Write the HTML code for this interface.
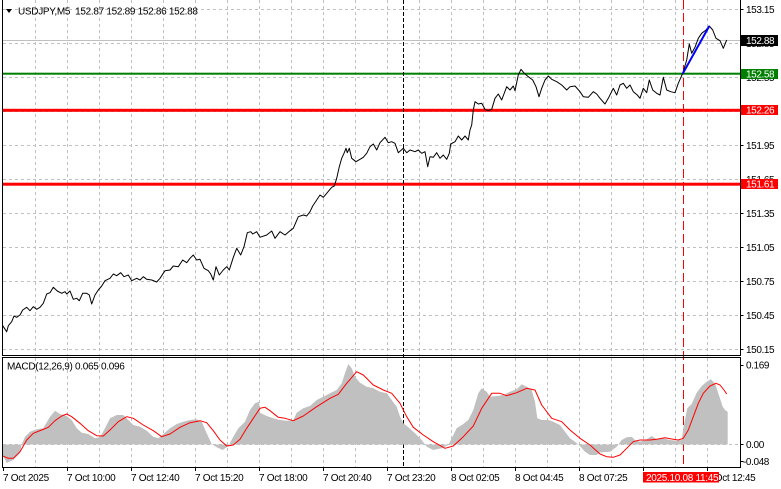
<!DOCTYPE html>
<html><head><meta charset="utf-8"><style>
html,body{margin:0;padding:0;background:#fff;}
svg{display:block;}
text{font-family:"Liberation Sans",sans-serif;font-size:10px;fill:#000;}
</style></head><body>
<svg width="781" height="489" viewBox="0 0 781 489" xmlns="http://www.w3.org/2000/svg">
<rect width="781" height="489" fill="#fff"/>
<!-- grid -->
<g stroke="#c0c0c0" stroke-width="1" stroke-dasharray="3,3" shape-rendering="crispEdges">
<path d="M3 9.5H740M3 43.5H740M3 77.5H740M3 111.5H740M3 145.5H740M3 179.5H740M3 213.5H740M3 247.5H740M3 281.5H740M3 315.5H740M3 349.5H740"/>
<path d="M35.5 0V355M67.5 0V355M99.5 0V355M131.5 0V355M163.5 0V355M195.5 0V355M227.5 0V355M259.5 0V355M291.5 0V355M323.5 0V355M355.5 0V355M387.5 0V355M419.5 0V355M451.5 0V355M483.5 0V355M515.5 0V355M547.5 0V355M579.5 0V355M611.5 0V355M643.5 0V355M675.5 0V355M707.5 0V355"/>
<path d="M35.5 358V467M67.5 358V467M99.5 358V467M131.5 358V467M163.5 358V467M195.5 358V467M227.5 358V467M259.5 358V467M291.5 358V467M323.5 358V467M355.5 358V467M387.5 358V467M419.5 358V467M451.5 358V467M483.5 358V467M515.5 358V467M547.5 358V467M579.5 358V467M611.5 358V467M643.5 358V467M675.5 358V467M707.5 358V467"/>
<path d="M3 444.5H740"/>
</g>
<!-- bid line -->
<path d="M3 40.5H740" stroke="#c0c0c0" stroke-width="1" shape-rendering="crispEdges"/>
<!-- level lines -->
<rect x="3" y="72.7" width="737" height="2" fill="#008000"/>
<rect x="3" y="108.8" width="737" height="3" fill="#ff0000"/>
<rect x="3" y="182.7" width="737" height="3" fill="#ff0000"/>
<!-- vertical markers -->
<path d="M403.5 0V467" stroke="#000" stroke-width="1" stroke-dasharray="4,2" shape-rendering="crispEdges"/>
<path d="M683.5 0V467" stroke="#ff0000" stroke-width="1" stroke-dasharray="9,4" shape-rendering="crispEdges"/>
<!-- price line -->
<polyline fill="none" stroke="#000" stroke-width="1" stroke-linejoin="round" points="2.7,325.7 6.7,331.7 8.3,325.7 11.7,321.7 14,316 16.7,317.3 20,315 22.7,310 26.7,307.3 30,310.7 33.3,306.7 36.7,309.3 40,307.3 43.3,303.3 46.7,294 50,292.7 53.3,287.3 57.3,291 61.7,293.3 65,291.7 66.7,294 70,291 73.3,299.3 76.7,298.3 79.3,300.7 82.7,293.3 86.7,293.3 89.3,295 91.7,304 95,295 98.3,290 101.7,286 105,280.7 110,278.3 113.3,274 116.7,275.7 120.7,272.7 124,276.7 128.3,275 131.7,280.7 136.7,278.3 140,280 143.3,276.7 146.7,279.3 151.7,280 156.7,282 160,278.3 165,270.7 170,270 173.3,266 178.3,266.7 182.7,260 186.7,262.7 190,258.3 193.3,255 196.7,260 200,259.3 204,268.3 208.3,270.7 210.7,274 213.3,280 216,266.7 219.3,275 223.3,270 226.7,266.7 229.3,270 233.3,257.3 236.7,248.3 240.7,255 244,246.7 247.3,232.7 250.7,231.7 252.7,234 256.7,231.7 260,237.3 261.7,236.7 266.7,235 271.7,231 275,238.3 280,231.7 285,235 290,230.7 293.3,228.3 298.3,216.7 303.3,215 306.7,216 310,211.7 312.7,206 316.7,200 320,195 323.3,197.3 326.7,193.3 331.7,187.3 334.3,186 336.7,178.3 339.3,166.7 341.7,158.3 344,153.3 346,148.3 347.3,152.7 349.3,148.3 351.7,158.3 356,161.7 360,159.3 363.3,157.3 366.7,153.3 370,146.7 373.3,144 376.7,150 380,142.7 385,137.3 388.3,142.7 391.7,141.7 395,143.3 398.3,152.7 403.3,148.3 406.7,152.7 410,150 415,151.7 418.3,150 421.7,153.3 425,151.7 427.7,166.7 430,156.7 433.3,157.3 436.7,152.7 440,158.3 443.3,155 446.7,159.3 449.3,153.3 450.7,144 455,141.7 458.3,136 461.7,140 465,136 468.3,140 470,130 471.7,125 473.3,110 475,101.7 478.3,104 481.7,103.3 485,109.3 488.3,110.7 491.7,109.3 495,98.3 498.3,94 501.7,100 506.7,86.7 510,90 513.3,86 515,90.7 518.3,75 521,69.3 524.3,73.3 528.3,76.7 532.7,80 536,86.7 539,96.7 541.7,88.3 545,80 548.3,76 551.7,79.3 556.7,81.7 561.7,85 566.7,90 570,86.7 575,86 580,91.7 583.3,96.7 588.3,97.3 593.3,91.7 596.7,94 600,98.3 605,104 608.3,98.3 613.3,88.3 616.7,95 620,85 623.3,83.3 626.7,88.3 630,85 633.3,91.7 637.3,95 640,98.3 643.3,88.3 646.7,92.7 649.3,80 652.7,90 656.7,93.3 660,95 663.3,77.3 666.7,90 670.7,91.7 675,92.7 678.3,83.3 682.7,73.3 686.7,60 689.3,44 691.7,53.3 695,47.3 698.3,38.3 701.7,33.3 706,30 709.3,26 712.7,30 716,38.3 720,40.7 723.3,48.3 726.7,40"/>
<!-- blue trend line -->
<line x1="682.7" y1="73.7" x2="709.3" y2="26" stroke="#0000ff" stroke-width="2"/>
<!-- MACD histogram -->
<polygon fill="#c0c0c0" points="2.7,444.5 2.7,455 6.7,463 13.3,460 20,453 21.7,444.5 25,436.7 30,431.7 36.7,429.3 43.3,428.3 50,416.7 55,410.7 60,414 66.7,416 71.7,420 76.7,428.3 81.7,432.7 88.3,434 95,438.3 100,437.3 105,428.3 110,418.3 116.7,415 123.3,415 128.3,420 133.3,425 140,426.7 146.7,430.7 153.3,436.7 158.3,438.3 163.3,434 170,428.3 176.7,424 183.3,421.7 190,420 196.7,419.3 201.7,421.7 206.7,433.3 211.7,444 216.7,447.3 222.7,450 228.3,446 233.3,436.7 238.3,428.3 245,421.7 250,410 255,403.3 259,401.7 260,412.7 266.7,416 273.3,418.3 280,420 286.7,420.7 293.3,420 296.7,412.7 303.3,408.3 310,406 316.7,400 323.3,396.7 330,393.3 336.7,390 341.7,383.3 345,373.3 348.3,364 351.7,368.3 355,376.7 360,382.7 366.7,386.7 373.3,388.3 380,391.7 386.7,393.3 391.7,400 396.7,406.7 400,416.7 403.3,423.3 408.3,427.3 415,433.3 421.7,440 426.7,446.7 433.3,450 441.7,448.3 448.3,445 451.7,438.3 456.7,428.3 463.3,424 468.3,420 473.3,410 478.3,393.3 481.7,388.3 486.7,391.7 490,396.7 496.7,396 503.3,395 510,391.7 516.7,389.3 521.7,384.3 526.7,386.7 531.7,390 535,401.7 537.3,418.3 541.7,420 548.3,420 553.3,421.7 560,425 565,431.7 570,438.3 575,441.7 580,446 585,451.7 590,455 596.7,455 600,452.5 610,451.7 616.7,446.7 621.7,440 626.7,437.3 631.7,436.7 635,440 640,441.7 646.7,439.3 651.7,436 656.7,439.3 663.3,438.3 670,440 676.7,440.7 681.7,440 683.3,428.3 687.3,408.3 691.7,404 696.7,392.7 701.7,386 706.7,381.7 710.7,379.3 715,383.3 718.3,393.3 722.7,406.7 725,410 727.7,411.7 727.7,444.5"/>
<!-- MACD signal -->
<polyline fill="none" stroke="#ff0000" stroke-width="1" stroke-linejoin="round" points="2.7,456 8.3,458.3 13.3,458.3 20,451.7 26.7,440 33.3,433.3 41.7,430 48.3,427.3 55,420.7 61.7,416 66.7,414 71.7,416.7 80,423.3 88.3,430.7 96.7,435.7 103.3,436 110,430 118.3,421.7 126.7,416.7 133.3,418.3 143.3,425 153.3,430.7 161.7,436.7 170,434 180,427.3 190,422.7 200,420.7 206.7,422.7 213.3,430.7 220,440 226.7,446 233.3,445 240,439.3 246.7,428.3 253.3,418.3 260,408.3 265,407.3 270,410.7 278.3,417.3 285,418.3 293.3,420.7 303.3,416 316.7,406.7 330,398.3 338.3,394.3 346.7,383.3 356.7,371.7 363.3,375 373.3,385 383.3,390 391.7,393.3 400,403.3 406.7,416.7 413.3,427.3 423.3,435 433.3,441.7 445,448.3 453.3,446 463.3,436.7 473.3,426 481.7,408.3 491.7,393.3 500,393.3 506.7,395.7 516.7,392.7 526.7,388.3 535,390 541.7,405 551.7,418.3 561.7,421.7 570,430 580,438.3 590,445 600,454 606.7,456.7 613.3,457.3 620,455 626.7,448.3 633.3,441.7 640,440 650,440 656.7,439.3 665,437.7 671.7,439 678.3,440 683.3,438.3 688.3,430 693.3,416.7 698.3,403.3 703.3,393.3 710,386 716,383.3 720,385 724,390 726.7,394"/>
<!-- frames -->
<g stroke="#000" stroke-width="1" shape-rendering="crispEdges" fill="none">
<path d="M2.5 0V355.5H740.5V0"/>
<path d="M2.5 357.5H740.5V467.5H2.5Z"/>
<path d="M740.5 9.5h3M740.5 43.5h3M740.5 77.5h3M740.5 111.5h3M740.5 145.5h3M740.5 179.5h3M740.5 213.5h3M740.5 247.5h3M740.5 281.5h3M740.5 315.5h3M740.5 349.5h3M740.5 365.5h3M740.5 444.5h3M740.5 461.5h3"/>
<path d="M3.5 467V471M67.5 467V471M131.5 467V471M195.5 467V471M259.5 467V471M323.5 467V471M387.5 467V471M451.5 467V471M515.5 467V471M579.5 467V471M643.5 467V471M707.5 467V471"/>
</g>
<!-- header -->
<polygon points="6,9 12,9 9,13" fill="#000"/>
<text x="18" y="14.5" style="letter-spacing:-0.3px">USDJPY,M5&#160;&#160;152.87 152.89 152.86 152.88</text>
<text x="7" y="369.5" style="letter-spacing:-0.3px">MACD(12,26,9) 0.065 0.096</text>
<!-- right price axis -->
<g style="letter-spacing:-0.4px">
<text x="746" y="13">153.15</text>
<text x="746" y="47">152.85</text>
<text x="746" y="81">152.55</text>
<text x="746" y="115">152.25</text>
<text x="746" y="149">151.95</text>
<text x="746" y="183">151.65</text>
<text x="746" y="217">151.35</text>
<text x="746" y="251">151.05</text>
<text x="746" y="285">150.75</text>
<text x="746" y="319">150.45</text>
<text x="746" y="353">150.15</text>
<text x="746" y="368.5">0.169</text>
<text x="746" y="448">0.00</text>
<text x="743" y="465">-0.048</text>
</g>
<!-- price tags -->
<rect x="741" y="35" width="37" height="11" fill="#000"/>
<text x="746" y="44" style="letter-spacing:-0.4px;fill:#fff">152.88</text>
<rect x="741" y="69" width="37" height="10" fill="#008000"/>
<text x="746" y="77.5" style="letter-spacing:-0.4px;fill:#fff">152.58</text>
<rect x="741" y="105" width="37" height="10" fill="#ff0000"/>
<text x="746" y="113.5" style="letter-spacing:-0.4px;fill:#fff">152.26</text>
<rect x="741" y="179" width="37" height="10" fill="#ff0000"/>
<text x="746" y="187.5" style="letter-spacing:-0.4px;fill:#fff">151.61</text>
<!-- time axis -->
<g style="letter-spacing:-0.3px">
<text x="3" y="481">7 Oct 2025</text>
<text x="67" y="481">7 Oct 10:00</text>
<text x="131" y="481">7 Oct 12:40</text>
<text x="195" y="481">7 Oct 15:20</text>
<text x="259" y="481">7 Oct 18:00</text>
<text x="323" y="481">7 Oct 20:40</text>
<text x="387" y="481">7 Oct 23:20</text>
<text x="451" y="481">8 Oct 02:05</text>
<text x="515" y="481">8 Oct 04:45</text>
<text x="579" y="481">8 Oct 07:25</text>
<text x="707" y="481">8 Oct 12:45</text>
</g>
<rect x="643" y="472" width="76" height="10.5" fill="#ff0000"/>
<text x="646" y="481" style="letter-spacing:-0.3px;fill:#fff">2025.10.08 11:45</text>
</svg>
</body></html>
